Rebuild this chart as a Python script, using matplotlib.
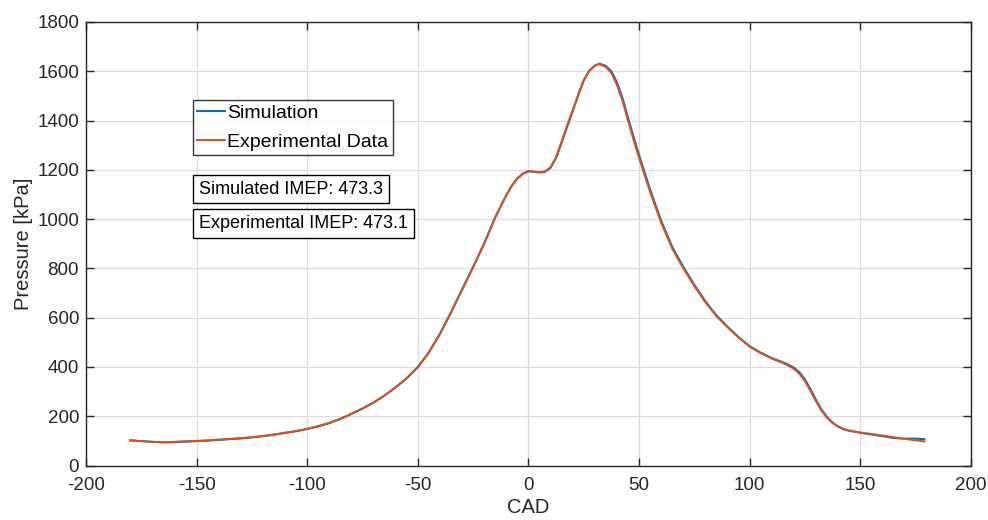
import matplotlib
matplotlib.use("Agg")
import matplotlib.pyplot as plt

plt.rcParams['font.family'] = ['Liberation Sans', 'DejaVu Sans']
plt.rcParams['axes.unicode_minus'] = False

cad = [-180, -175, -170, -165, -160, -155, -150, -145, -140, -135, -130, -125,
       -120, -115, -110, -105, -100, -95, -90, -85, -80, -75, -70, -65, -60,
       -55, -50, -45, -40, -35, -30, -25, -20, -15, -10, -7.5, -5, -2.5, 0, 2.5, 5,
       7.5, 10, 12.5, 15, 17.5, 20, 22.5, 25, 27.5, 30, 32, 35, 37.5, 40, 42.5,
       45, 47.5, 50, 55, 60, 65, 70, 75, 80, 85, 90, 95, 100, 105, 110, 115,
       117.5, 120, 122.5, 125, 127.5, 130, 132.5, 135, 137.5, 140, 142.5, 145,
       150, 155, 160, 165, 170, 175, 179]

p_exp = [102, 99, 96, 95, 96, 98, 100, 102, 105, 108, 111, 115,
         120, 126, 133, 140, 149, 160, 173, 190, 210, 232, 256, 285, 318,
         355, 400, 460, 535, 622, 715, 806, 902, 1008, 1098, 1136, 1166, 1185, 1195, 1193, 1190,
         1194, 1211, 1252, 1315, 1380, 1442, 1506, 1565, 1603, 1622, 1629, 1617, 1593, 1545, 1480,
         1400, 1322, 1248, 1110, 985, 880, 800, 728, 662, 606, 561, 519, 482, 456, 434, 416,
         405, 392, 372, 342, 302, 260, 222, 193, 172, 158, 148, 142,
         134, 128, 122, 115, 108, 102, 98]

p_sim = [102, 99, 96, 94, 95, 97, 99, 101, 104, 107, 110, 114,
         119, 125, 132, 139, 148, 159, 172, 189, 209, 231, 255, 284, 317,
         354, 399, 459, 534, 621, 714, 805, 901, 1007, 1097, 1135, 1165, 1184, 1194, 1192, 1189,
         1192, 1208, 1248, 1310, 1375, 1438, 1502, 1562, 1602, 1623, 1631, 1622, 1600, 1555, 1492,
         1412, 1334, 1260, 1120, 993, 887, 806, 733, 666, 609, 563, 521, 484, 458, 436, 419,
         409, 397, 378, 349, 309, 266, 227, 196, 174, 158, 147, 141,
         133, 126, 119, 112, 109, 109, 107]

x_ticks = [-200, -150, -100, -50, 0, 50, 100, 150, 200]
y_ticks = [0, 200, 400, 600, 800, 1000, 1200, 1400, 1600, 1800]

fig = plt.figure(figsize=(9.88, 5.2), dpi=100)
ax = fig.add_axes([0.0870, 0.1048, 0.8957, 0.8529])

ax.plot(cad, p_sim, color='#0072BD', lw=1.5, label='Simulation')
ax.plot(cad, p_exp, color='#D95319', lw=1.4, label='Experimental Data')

ax.set_xlim(-200, 200)
ax.set_ylim(0, 1800)
ax.set_xticks(x_ticks)
ax.set_yticks(y_ticks)
ax.grid(True, color='#DCDCDC', lw=0.9)
ax.set_axisbelow(True)
ax.tick_params(direction='in', top=True, right=True, length=6, width=1,
               colors='#262626', labelsize=13.5, labelcolor='#262626')
ax.tick_params(axis='x', pad=8)
ax.tick_params(axis='y', pad=5)
for s in ax.spines.values():
    s.set_color('#262626')
    s.set_linewidth(1.0)

ax.set_xlabel('CAD', fontsize=14.5, color='#262626', labelpad=3)
ax.set_ylabel('Pressure [kPa]', fontsize=14.5, color='#262626', labelpad=3)

leg = ax.legend(loc='upper left', bbox_to_anchor=(0.1209, 0.824), fontsize=14,
                frameon=True, fancybox=False, edgecolor='#000000',
                handlelength=1.45, handletextpad=0.1, borderpad=0.22,
                labelspacing=0.58, borderaxespad=0)
leg.get_frame().set_linewidth(1.0)

bbox_kw = dict(boxstyle='square,pad=0.32', facecolor='white', edgecolor='black', lw=1.0)
ax.text(-148.8, 1122, 'Simulated IMEP: 473.3', fontsize=13, color='#000000',
        va='center', ha='left', bbox=bbox_kw)
ax.text(-148.8, 983, 'Experimental IMEP: 473.1', fontsize=13, color='#000000',
        va='center', ha='left', bbox=bbox_kw)

fig.savefig('out.png', dpi=100)
